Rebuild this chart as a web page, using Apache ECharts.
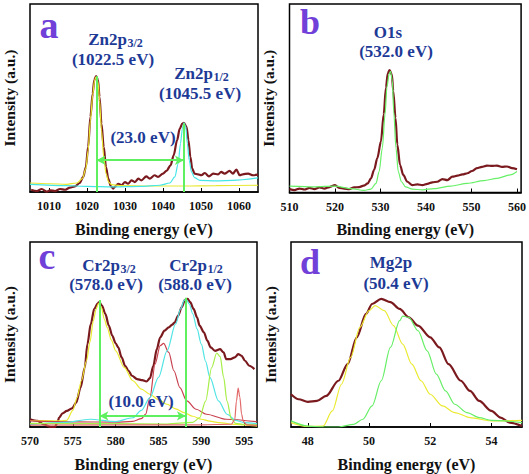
<!DOCTYPE html>
<html><head><meta charset="utf-8">
<script src="https://cdn.jsdelivr.net/npm/echarts@6/dist/echarts.min.js"></script>
<style>html,body{margin:0;padding:0;background:#fff}#c{width:529px;height:474px}</style>
</head><body><div id="c"></div>
<script>
// ---------- tick labels ----------
const aTicks = [1010, 1020, 1030, 1040, 1050, 1060];
const bTicks = [510, 520, 530, 540, 550, 560];
const cTicks = [570, 575, 580, 585, 590, 595];
const dTicks = [48, 50, 52, 54];

// ---------- panel a : Zn2p ----------
const aMeasured = [[1005.3,1.2],[1006.8,0.5],[1008.1,1.6],[1009.4,0.2],[1010.3,0.9],[1011.6,0.5],[1012.9,1.6],[1014.2,1.2],[1015.5,2.3],[1016.8,3.0],[1018.1,4.8],[1019.0,8.0],[1019.7,13.3],[1020.3,24],[1020.9,40],[1021.5,52.4],[1021.9,59.5],[1022.4,61.6],[1022.9,59.5],[1023.3,50.6],[1023.8,36.4],[1024.4,24],[1025.0,13.3],[1025.6,7.1],[1026.3,3.0],[1026.9,1.8],[1027.3,2.7],[1028.2,4.4],[1029.1,3.6],[1030.0,5.3],[1030.8,4.4],[1031.7,6.2],[1032.6,5.3],[1033.5,7.1],[1034.3,6.2],[1035.6,8.3],[1036.5,7.1],[1037.8,8.9],[1038.7,8.0],[1040.0,9.8],[1040.9,11.2],[1042.0,14.2],[1042.8,19.5],[1043.7,27.5],[1044.4,33.7],[1045.1,36.4],[1045.5,36.8],[1046.2,34.6],[1046.7,27.5],[1047.2,18.7],[1047.7,12.4],[1048.3,9.8],[1049.2,9.4],[1050.1,8.9],[1051.0,10.1],[1052.1,8.3],[1053.2,9.8],[1054.5,9.4],[1055.3,10.7],[1056.2,9.8],[1057.5,11.2],[1058.4,9.8],[1059.3,11.9],[1060.2,8.9],[1061.0,9.4],[1062.4,9.8],[1063.7,8.9],[1065.0,9.2]];
const aFit32 = [[1005,4.8],[1010.3,4.4],[1014.6,4.1],[1017.3,4.8],[1018.8,7.1],[1019.7,12.4],[1020.3,22.2],[1020.9,38.2],[1021.5,51.5],[1022,59.5],[1022.4,61.3],[1022.9,58.6],[1023.3,48.8],[1023.8,32.9],[1024.4,18.7],[1025,9.8],[1025.7,5.3],[1026.5,3.9],[1028.6,3.4],[1036.5,3.2],[1045.3,3.2],[1054,3.4],[1065,3.6]];
const aFit12 = [[1005,4.1],[1014.6,3.4],[1019.9,3.0],[1026.9,2.7],[1033.9,3.0],[1039.2,3.6],[1041.8,4.8],[1043.1,8.0],[1044,15.1],[1044.6,25.8],[1045.1,33.7],[1045.5,36.8],[1046,34.6],[1046.4,25.8],[1046.9,16.9],[1047.5,10.7],[1048.3,7.6],[1049.7,6.2],[1054,5.9],[1058.4,6.2],[1065,7.5]];
const aPeaks = [[1022.5,61.6],[1045.5,36.4]];
const aSplitY = 16.9;

// ---------- panel b : O1s ----------
const bMeasured = [[510,1.8],[511.1,1.3],[512.2,2.1],[513.3,1.6],[514.4,2.5],[515.5,1.8],[516.6,2.7],[517.7,2.1],[518.8,2.9],[520,3.9],[520.9,2.5],[522,2.1],[523.1,1.8],[524.2,2.7],[525.3,2.9],[526.3,3.6],[527.2,4.8],[527.9,7.5],[528.6,12],[529.3,18.2],[530.1,27.1],[530.7,41.4],[531.2,55.7],[531.6,63.2],[532.0,65],[532.5,62.5],[532.8,53.9],[533.3,39.6],[533.7,25.4],[534.3,14.6],[535,9.3],[535.9,5.7],[537,3.9],[538.1,4.3],[539.2,3.9],[540.3,4.6],[541.4,5.4],[542.5,5.7],[543.6,7.1],[544.7,6.6],[545.8,8.4],[546.9,8.9],[548,9.6],[549.1,10.2],[550.1,11.4],[551.2,12.9],[552.3,13.6],[553.4,14.3],[554.5,14.1],[555.6,14.3],[556.7,13.6],[557.8,13.8],[558.9,12.9],[560,12.3]];
const bFit = [[510,3.4],[515.5,3.0],[520,3.4],[523.5,2.1],[526.4,1.1],[527.9,1.8],[529,4.8],[529.7,11.1],[530.4,23.6],[531,41.4],[531.4,55.7],[531.9,62.9],[532.2,64.3],[532.6,59.3],[532.9,43.2],[533.4,23.6],[533.9,11.1],[534.6,5.7],[535.5,3.0],[537,1.8],[539.2,1.4],[541.8,2.1],[545.4,3.4],[549.1,4.8],[552.7,6.3],[555.6,7.5],[558.5,9.3],[560,11.1]];

// ---------- panel c : Cr2p ----------
const cMeasured = [[570,4.2],[570.9,3.3],[571.6,1.4],[572.4,0],[572.9,0],[573.2,2.4],[573.4,5.1],[573.8,7.4],[574.3,8.7],[574.9,10.1],[575.4,13.2],[575.9,21.3],[576.4,32.2],[576.7,44.8],[577.1,55.7],[577.5,63.8],[577.9,66.9],[578.1,67.5],[578.4,65.6],[578.8,61.1],[579.2,54.8],[579.6,49.4],[580,45.2],[580.3,43],[580.7,37.6],[581.1,33.1],[581.5,30.4],[581.9,27.7],[582.5,25.9],[583.1,25.3],[583.6,24.6],[584,26.4],[584.4,33.1],[584.8,42.1],[585.2,48.5],[585.7,52.1],[586.2,53.9],[586.6,55.3],[586.9,56.6],[587.3,60.2],[587.7,64.7],[588.1,68.7],[588.4,69.3],[588.7,67.5],[589.1,63.8],[589.5,59.3],[589.8,54.8],[590.3,51.2],[590.7,46.7],[591.1,43],[591.6,41.2],[592.2,42.1],[592.6,40.3],[592.9,36.7],[593.4,36.7],[593.9,37.6],[594.3,39.4],[594.7,38.5],[595.1,35.8],[595.6,33.1],[596.2,31.3]];
const cFitYellow = [[570,3.5],[572,3.4],[573.5,3.3],[574.3,3.6],[575,9],[575.5,15.9],[576,25],[576.6,35.8],[577,46],[577.4,57.5],[577.7,63.5],[578,66.9],[578.3,65],[578.7,58],[579,53.9],[579.5,47],[580,41.2],[581,32.2],[582,25],[583,20.5],[584,17.7],[585,14.8],[586,12.3],[587,9.8],[588,7.8],[589,5.8],[590,4.2],[591,3.2],[592,2.4],[594,1.4],[596.5,0.5]];
const cFitRed = [[570,3.3],[575,2.8],[580,2.6],[582,3.0],[583,4.5],[583.5,7],[584,15.9],[584.6,34],[585.2,44],[585.6,45.2],[586.2,40.3],[586.8,30.4],[587.5,21.3],[588.3,14.1],[589.4,9.6],[590.6,6.9],[592.9,4.2],[596.5,2.8]];
const cFitCyan = [[570,1.4],[574,2.5],[577,4.2],[580,2.9],[582,5],[583,9],[584,15.9],[585,26.8],[586,41.2],[587,55.7],[587.6,64],[588,68.4],[588.2,69.3],[588.6,66.5],[589,61.1],[589.5,53],[590,44.8],[590.5,35.5],[591,26.8],[592,14.1],[593,6.9],[594,3.6],[595,2.4],[596.5,1.8]];
const cFitLime = [[570,2],[580,1.8],[586,1.6],[589,2.5],[589.8,5],[590.5,14],[591.2,32],[591.8,40],[592.2,38],[592.6,27],[593,14],[593.5,4.5],[594,2],[595,1.4],[596.5,1.2]];
const cFitPink = [[570,1.0],[590,1.2],[593.5,1.5],[593.9,4],[594.1,14],[594.3,21],[594.5,16],[594.7,7],[594.9,3],[595.3,1.2],[596.5,0.8]];
const cPeaks = [[578.1,68.7],[588.2,69.8]];
const cSplitY = 6.0;

// ---------- panel d : Mg2p ----------
const dMeasured = [[47.45,17.7],[47.7,15],[48,13.6],[48.3,14.1],[48.6,16.8],[49,25],[49.3,34],[49.6,48.5],[49.9,61.1],[50.1,66.5],[50.4,69.3],[50.7,67.5],[51,63.8],[51.3,59.3],[51.6,54.8],[52,48.5],[52.3,43],[52.6,34],[53,25],[53.3,19.5],[53.6,14.1],[54,8.7],[54.3,5.1],[54.6,2.4],[55,0.5]];
const dFitYellow = [[47.45,2.4],[48,0.3],[48.5,0.5],[48.8,8.7],[49.1,23.1],[49.4,37.6],[49.7,53.9],[50,62.9],[50.2,65.6],[50.5,62.9],[50.8,54.8],[51.1,44.8],[51.4,34],[51.7,25],[52,17.7],[52.4,11.4],[52.8,7.8],[53.3,5.1],[54,3.3],[55,3.6]];
const dFitGreen = [[47.45,3.3],[48,0.5],[48.5,0],[49,0],[49.5,1.4],[49.8,4.2],[50.1,11.4],[50.4,25],[50.7,43],[51,57.5],[51.1,59.9],[51.3,59.3],[51.6,52.1],[51.9,41.2],[52.2,28.6],[52.5,19.5],[52.8,12.3],[53.2,7.8],[53.6,5.1],[54,3.6],[55,2.4]];

// ---------- styling ----------
const FONT = "'Liberation Serif','Times New Roman',serif";
const BLUE = '#1d3a96';
const PURPLE = '#7040d8';
const MAROON = '#7a1a1e';
const MARK = '#5ef05e';

const grids = [
  {left: 30, top: 4, width: 228, height: 188},
  {left: 289.5, top: 4, width: 232, height: 188.5},
  {left: 29, top: 242, width: 228, height: 185},
  {left: 291, top: 242, width: 231, height: 185}
].map(g => Object.assign(g, {show: true, borderColor: '#000', borderWidth: 1.5, backgroundColor: 'transparent'}));

function xAx(i, min, max, ticks) {
  return {
    type: 'value', gridIndex: i, min, max,
    name: 'Binding energy (eV)', nameLocation: 'middle', nameGap: 29,
    nameTextStyle: {fontFamily: FONT, fontWeight: 'bold', fontSize: 16, color: '#111'},
    axisLine: {show: true, onZero: false, lineStyle: {color: '#000', width: 1.5}},
    axisTick: {show: true, inside: true, length: 4, customValues: ticks, lineStyle: {color: '#000'}},
    axisLabel: {show: true, customValues: ticks, margin: 8, formatter: v => String(v),
      fontFamily: FONT, fontWeight: 'bold', fontSize: 12, color: '#111'},
    splitLine: {show: false}
  };
}
function yAx(i) {
  return {
    type: 'value', gridIndex: i, min: 0, max: 100,
    name: 'Intensity (a.u.)', nameLocation: 'middle', nameGap: 13,
    nameTextStyle: {fontFamily: FONT, fontWeight: 'bold', fontSize: 15.5, color: '#111'},
    axisLine: {show: false}, axisTick: {show: false}, axisLabel: {show: false}, splitLine: {show: false}
  };
}
function line(i, data, color, width, z) {
  return {type: 'line', xAxisIndex: i, yAxisIndex: i, data, showSymbol: false, symbol: 'none',
    smooth: 0.3, smoothMonotone: 'x', lineStyle: {color, width}, z: z || 2, silent: true, clip: true};
}
function markers(i, peaks, splitY) {
  const v = peaks.map(p => [{coord: [p[0], 0], symbol: 'none'}, {coord: [p[0], p[1]], symbol: 'none'}]);
  v.push([{coord: [peaks[0][0], splitY], symbol: 'arrow'}, {coord: [peaks[1][0], splitY], symbol: 'arrow'}]);
  return {type: 'line', xAxisIndex: i, yAxisIndex: i, data: [], z: 5,
    markLine: {silent: true, symbolSize: [7, 9], label: {show: false}, animation: false,
      lineStyle: {color: MARK, width: 2, type: 'solid'}, data: v}};
}

const series = [
  line(0, aMeasured, MAROON, 2.2), line(0, aFit32, '#e8e830', 1.2, 3), line(0, aFit12, '#46e6e6', 1.2, 3), markers(0, aPeaks, aSplitY),
  line(1, bMeasured, MAROON, 2.2), line(1, bFit, '#66f066', 1.2, 3),
  line(2, cMeasured, MAROON, 2.2), line(2, cFitYellow, '#eaea30', 1.2, 3), line(2, cFitRed, '#c8404e', 1.2, 3),
  line(2, cFitCyan, '#50e4e4', 1.2, 3), line(2, cFitLime, '#a6ee48', 1.2, 3), line(2, cFitPink, '#e26a6a', 1.2, 3), markers(2, cPeaks, cSplitY),
  line(3, dMeasured, MAROON, 2.2), line(3, dFitYellow, '#eaea30', 1.2, 3), line(3, dFitGreen, '#66ee66', 1.2, 3)
];

function txt(x, y, text, size, color, align) {
  return {type: 'text', x, y, z: 10, style: {text, fill: color || BLUE, fontFamily: FONT, fontWeight: 'bold',
    fontSize: size || 17, lineHeight: size ? size : 16, align: align || 'center', verticalAlign: 'middle'}};
}
// main text ends at xs, subscript starts at xs, lowered a little
function sub(xs, y, main, s) {
  return [txt(xs, y, main, 17, BLUE, 'right'),
    {type: 'text', x: xs + 0.5, y: y + 3.5, z: 10, style: {text: s, fill: BLUE, fontFamily: FONT, fontWeight: 'bold',
      fontSize: 12, lineHeight: 11, align: 'left', verticalAlign: 'middle'}}];
}

const graphic = [
  txt(49, 25, 'a', 38, PURPLE), txt(310, 22, 'b', 36, PURPLE), txt(47, 256, 'c', 38, PURPLE), txt(310, 262, 'd', 36, PURPLE),
  ...sub(127, 39.5, 'Zn2p', '3/2'), txt(113, 59.5, '(1022.5 eV)'),
  ...sub(213, 73.5, 'Zn2p', '1/2'), txt(200, 93, '(1045.5 eV)'),
  txt(143, 137, '(23.0 eV)'),
  txt(388, 32, 'O1s'), txt(396, 51, '(532.0 eV)'),
  ...sub(120, 265, 'Cr2p', '3/2'), txt(106, 284.5, '(578.0 eV)'),
  ...sub(207, 265, 'Cr2p', '1/2'), txt(195, 284.5, '(588.0 eV)'),
  txt(141, 401, '(10.0 eV)'),
  txt(391, 262, 'Mg2p'), txt(396, 283, '(50.4 eV)')
];

const chart = echarts.init(document.getElementById('c'), null, {renderer: 'svg'});
chart.setOption({
  animation: false,
  backgroundColor: '#fff',
  grid: grids,
  xAxis: [xAx(0, 1005, 1065, aTicks), xAx(1, 510, 560.9, bTicks), xAx(2, 570, 596.5, cTicks), xAx(3, 47.45, 55, dTicks)],
  yAxis: [yAx(0), yAx(1), yAx(2), yAx(3)],
  series,
  graphic
});
</script></body></html>
